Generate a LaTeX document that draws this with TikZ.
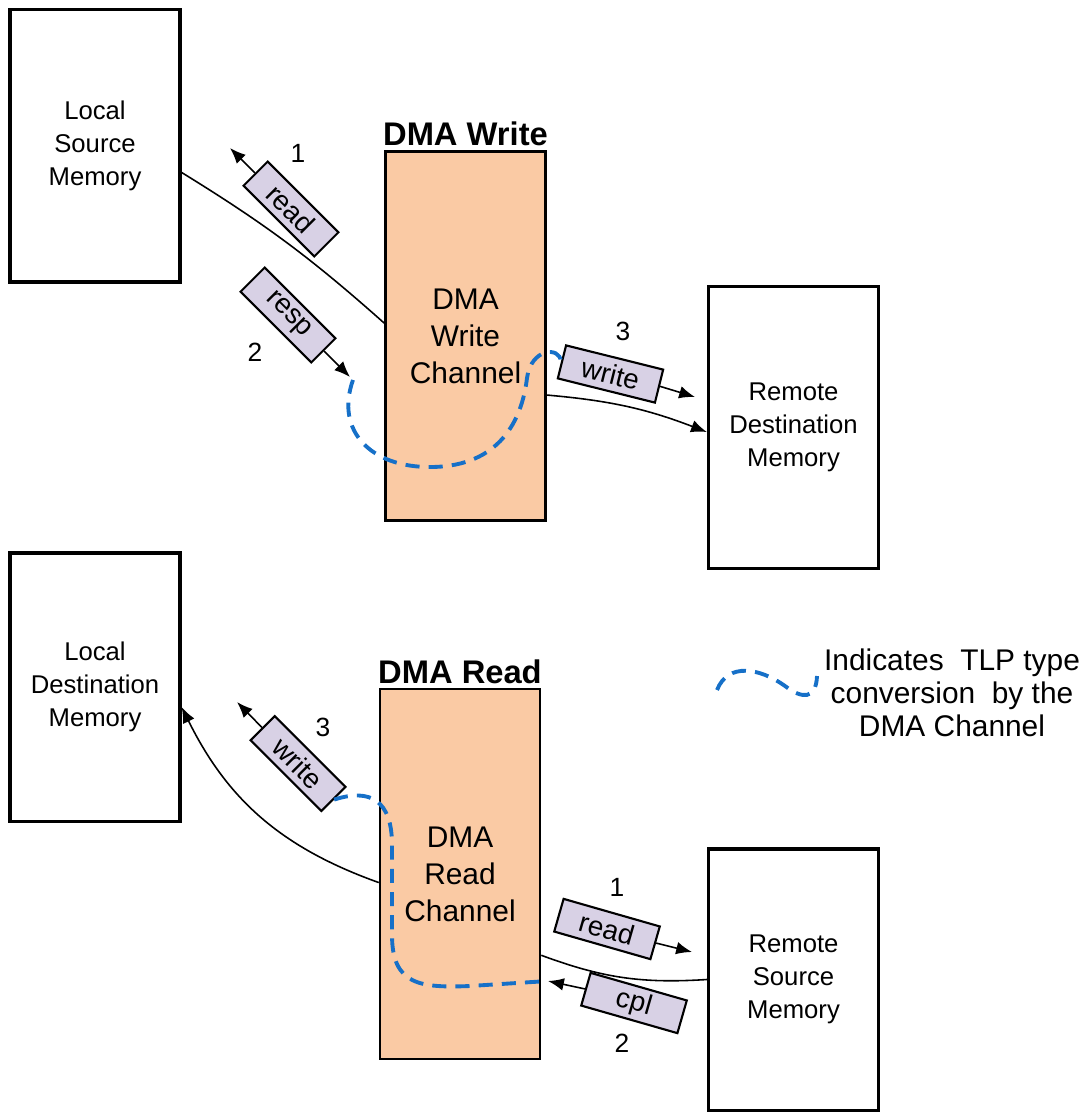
\documentclass[tikz,border=0pt]{standalone}
\usepackage{fontspec}
\setmainfont{Liberation Sans}
\usetikzlibrary{arrows.meta}

\definecolor{chanfill}{RGB}{250,202,164}
\definecolor{tagfill}{RGB}{216,209,229}
\definecolor{convblue}{RGB}{22,112,200}

\tikzset{
    membox/.style={draw, line width=0.9pt, minimum width=1.70cm, align=center,
        font=\fontsize{7.3}{9.4}\selectfont},
    chanbox/.style={draw, line width=0.7pt, fill=chanfill, minimum width=1.60cm,
        minimum height=3.69cm, align=center, font=\fontsize{8.5}{10.5}\selectfont},
    chantitle/.style={font=\bfseries\fontsize{9.3}{11}\selectfont, inner sep=1pt},
    tlptag/.style={draw, line width=0.6pt, fill=tagfill, minimum width=1.0cm,
        minimum height=0.34cm, inner sep=1pt, font=\fontsize{7.9}{8}\selectfont},
    stepnum/.style={font=\fontsize{7.5}{8}\selectfont},
    flow/.style={line width=0.45pt},
    conv/.style={convblue, line width=1.1pt, dash pattern=on 4pt off 2.6pt},
}

\begin{document}
\begin{tikzpicture}[x=0.01cm, y=-0.01cm, >={Latex[length=4.5pt,width=3.6pt]}]
    \useasboundingbox (0,0) rectangle (1081,1113);

    % DMA write
    \node[membox, minimum height=2.72cm] (lsrc) at (95,146) {Local\\Source\\Memory};
    \node[chanbox] (wch) at (465.5,336) {DMA\\Write\\Channel};
    \node[chantitle, above] (wtitle) at (wch.north) {DMA Write};
    \node[membox, minimum height=2.81cm] (rdst) at (793.5,427.5) {Remote\\Destination\\Memory};

    \draw[flow] (lsrc.-17) to[bend left=5] (wch.171);
    \draw[flow, ->] (wch.-36) to[bend left=8] (rdst.183);

    \node[tlptag, rotate=-45] (rdW) at (291,209) {read};
    \node[tlptag, rotate=-45] (rspW) at (288,315) {resp};
    \node[tlptag, rotate=-14] (wrW) at (610.5,374) {write};
    \coordinate (rdWend) at (230,148);
    \coordinate (rspWend) at (350,377);
    \coordinate (wrWend) at (695,397);
    \draw[flow, ->] (rdW.west) -- (rdWend);
    \draw[flow, ->] (rspW.east) -- (rspWend);
    \draw[flow, ->] (wrW.east) -- (wrWend);
    \node[stepnum] (n1W) at (298,153) {1};
    \node[stepnum] (n2W) at (255,352) {2};
    \node[stepnum] (n3W) at (623,331) {3};

    \draw[conv] (353,380) .. controls (335,430) and (370,468) .. (432,467)
        .. controls (500,466) and (522,420) .. (527,378)
        .. controls (531,348) and (560,346) .. (wrW.west);

    % DMA read
    \node[membox, minimum height=2.68cm] (ldst) at (95,687) {Local\\Destination\\Memory};
    \node[chanbox, minimum height=3.70cm] (rch) at (460,874) {DMA\\Read\\Channel};
    \node[chantitle, above] (rtitle) at (rch.north) {DMA Read};
    \node[membox, minimum height=2.61cm] (rsrc) at (793.5,979.5) {Remote\\Source\\Memory};

    \draw[flow, ->] (rch.186) to[bend left=22] (ldst.-13);
    \draw[flow] (rch.-45) to[bend right=12] (rsrc.west);

    \node[tlptag, rotate=-45] (wrR) at (298,763.5) {write};
    \node[tlptag, rotate=-16] (rdR) at (607,929) {read};
    \node[tlptag, rotate=-16] (cplR) at (634,1003) {cpl};
    \coordinate (wrRend) at (237,702);
    \coordinate (rdRend) at (692,952);
    \coordinate (cplRend) at (548,981);
    \draw[flow, ->] (wrR.west) -- (wrRend);
    \draw[flow, ->] (rdR.east) -- (rdRend);
    \draw[flow, ->] (cplR.west) -- (cplRend);
    \node[stepnum] (n3R) at (323,727) {3};
    \node[stepnum] (n1R) at (617,887) {1};
    \node[stepnum] (n2R) at (622,1043) {2};

    \draw[conv] (wrR.east) .. controls (370,788) and (392,800) .. (392,845)
        -- (392,935) .. controls (392,985) and (420,988) .. (470,986)
        -- (cplRend);

    % legend
    \draw[conv] (717,690) .. controls (728,662) and (760,668) .. (785,686)
        .. controls (802,699) and (816,700) .. (817,676);
    \node[align=center, font=\fontsize{8.5}{9.4}\selectfont] (legend) at (952,693)
        {Indicates~ TLP type\\conversion~ by the\\DMA Channel};
\end{tikzpicture}
\end{document}
